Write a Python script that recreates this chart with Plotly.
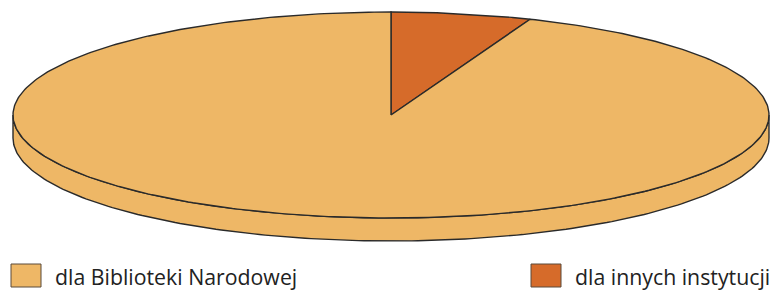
import numpy as np
import plotly.graph_objects as go

# data
labels = ["dla Biblioteki Narodowej", "dla innych instytucji"]
values = [94, 6]
colors = ["#EEB766", "#D66B2A"]

# geometry (pixel space)
W, H = 770, 291
cx, cy, rx, ry, depth = 391, 115, 378, 103, 23
edge = "#2a2a2a"

fig = go.Figure()

total = float(sum(values))
# slices ordered so that the small one starts at 12 o'clock, clockwise
order = [1, 0]
starts = {}
a = 0.0
for i in order:
    starts[i] = (a, a + 360.0 * values[i] / total)
    a += 360.0 * values[i] / total

def ell(t, dy=0.0):
    r = np.radians(t)
    return cx + rx * np.sin(r), cy - ry * np.cos(r) + dy

# side walls (front half only: 90..270 degrees)
for i in order:
    a0, a1 = starts[i]
    lo, hi = max(a0, 90.0), min(a1, 270.0)
    if hi <= lo:
        continue
    t = np.linspace(lo, hi, 200)
    xu, yu = ell(t)
    xl, yl = ell(t[::-1], depth)
    xs = np.concatenate([xu, xl, xu[:1]])
    ys = np.concatenate([yu, yl, yu[:1]])
    fig.add_trace(go.Scatter(x=xs, y=ys, mode="lines", fill="toself",
                             fillcolor=colors[i], line=dict(color=edge, width=1.4),
                             hoverinfo="skip", showlegend=False))

# top faces
for i in order:
    a0, a1 = starts[i]
    t = np.linspace(a0, a1, 400)
    xe, ye = ell(t)
    xs = np.concatenate([[cx], xe, [cx]])
    ys = np.concatenate([[cy], ye, [cy]])
    fig.add_trace(go.Scatter(x=xs, y=ys, mode="lines", fill="toself",
                             fillcolor=colors[i], line=dict(color=edge, width=1.4),
                             hoverinfo="skip", showlegend=False))

# legend (manual)
leg_x = [11, 531]
for k, i in enumerate([0, 1]):
    x0 = leg_x[k]
    fig.add_shape(type="rect", xref="x", yref="y", x0=x0, x1=x0 + 30, y0=264, y1=287,
                  fillcolor=colors[i], line=dict(color="#5a4a3a", width=1))
    fig.add_annotation(x=x0 + 41.5, y=276.5, xref="x", yref="y", text=labels[i],
                       showarrow=False, xanchor="left", yanchor="middle",
                       font=dict(family="Open Sans", size=21.3, color="#222222"))

fig.update_layout(
    width=W, height=H, margin=dict(l=0, r=0, t=0, b=0),
    paper_bgcolor="white", plot_bgcolor="white",
    xaxis=dict(range=[0, W], visible=False, fixedrange=True),
    yaxis=dict(range=[H, 0], visible=False, fixedrange=True),
    showlegend=False,
)

fig.write_html("out.html", config={"displayModeBar": False},
               post_script="document.body.style.margin='0';document.body.style.overflow='hidden';")
